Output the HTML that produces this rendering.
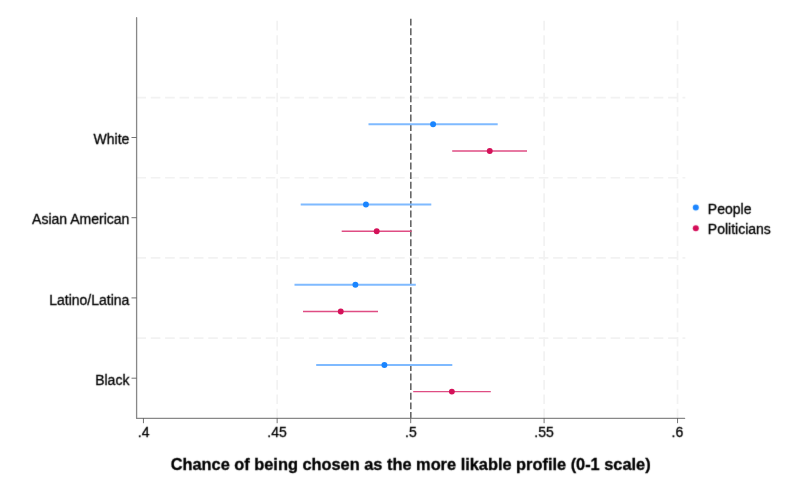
<!DOCTYPE html>
<html>
<head>
<meta charset="utf-8">
<style>
  html, body { margin: 0; padding: 0; background: #ffffff; }
  body { width: 800px; height: 480px; overflow: hidden; font-family: "Liberation Sans", sans-serif; }
  svg { display: block; position: absolute; left: 0; top: 0; will-change: transform; }
  text { font-family: "Liberation Sans", sans-serif; fill: #000000; stroke: #000000; stroke-width: 0.32px; }
  .lab { font-size: 14px; }
  .ttl { font-size: 16.37px; font-weight: bold; }
  .grid { stroke: #f2f2f2; stroke-width: 1.7; stroke-dasharray: 9.6 4.77; fill: none; }
  .axis { stroke: #888888; stroke-width: 1.3; fill: none; stroke-linecap: round; }
  .tick { stroke: #5c5c5c; stroke-width: 0.85; fill: none; }
  .ref { stroke: #666666; stroke-width: 1.6; stroke-dasharray: 6.87 2.722; fill: none; }
  .cib { stroke: #7fbaff; stroke-width: 1.95; }
  .cir { stroke: #df4d83; stroke-width: 1.4; }
  .db { fill: #1a85ff; }
  .dr { fill: #d41159; }
</style>
</head>
<body>
<svg width="800" height="480" viewBox="0 0 800 480">
  <defs><filter id="soft" x="0" y="0" width="800" height="480" filterUnits="userSpaceOnUse"><feConvolveMatrix order="3" kernelMatrix="0.00810 0.07380 0.00810 0.07380 0.67240 0.07380 0.00810 0.07380 0.00810" divisor="1" edgeMode="none" preserveAlpha="false"/></filter></defs>
  <rect x="0" y="0" width="800" height="480" fill="#ffffff"/>

  <!-- horizontal grid -->
  <g class="grid">
    <line x1="136.4" y1="97.55" x2="685.3" y2="97.55"/>
    <line x1="136.4" y1="177.75" x2="685.3" y2="177.75"/>
    <line x1="136.4" y1="257.95" x2="685.3" y2="257.95"/>
    <line x1="136.4" y1="338.15" x2="685.3" y2="338.15"/>
  </g>
  <!-- vertical grid -->
  <g class="grid">
    <line x1="277.2" y1="20.8" x2="277.2" y2="418.2"/>
    <line x1="544.1" y1="20.8" x2="544.1" y2="418.2"/>
    <line x1="677.55" y1="20.8" x2="677.55" y2="418.2"/>
  </g>

  <!-- reference line at .5 -->
  <line class="ref" x1="410.8" y1="18.7" x2="410.8" y2="418.2"/>

  <!-- CI lines -->
  <line class="cib" x1="368.50" y1="124.20" x2="497.70" y2="124.20"/>
  <line class="cir" x1="452.20" y1="151.00" x2="527.00" y2="151.00"/>
  <line class="cib" x1="300.70" y1="204.48" x2="431.30" y2="204.48"/>
  <line class="cir" x1="341.70" y1="231.20" x2="411.70" y2="231.20"/>
  <line class="cib" x1="294.50" y1="284.75" x2="415.80" y2="284.75"/>
  <line class="cir" x1="303.00" y1="311.50" x2="378.00" y2="311.50"/>
  <line class="cib" x1="316.20" y1="365.00" x2="452.30" y2="365.00"/>
  <line class="cir" x1="413.20" y1="391.60" x2="490.80" y2="391.60"/>

  <!-- dots -->
  <circle class="db" cx="433.10" cy="124.20" r="2.95"/>
  <circle class="dr" cx="489.75" cy="151.00" r="2.95"/>
  <circle class="db" cx="365.95" cy="204.48" r="2.95"/>
  <circle class="dr" cx="376.70" cy="231.20" r="2.95"/>
  <circle class="db" cx="355.40" cy="284.75" r="2.95"/>
  <circle class="dr" cx="340.75" cy="311.50" r="2.95"/>
  <circle class="db" cx="384.40" cy="365.00" r="2.95"/>
  <circle class="dr" cx="451.85" cy="391.60" r="2.95"/>

  <!-- axes -->
  <path class="axis" d="M136.6 17.7 V418.45 H684.6" stroke-linejoin="round"/>

  <!-- y ticks -->
  <g class="tick">
    <line x1="131.5" y1="137.5" x2="136.6" y2="137.5"/>
    <line x1="131.5" y1="217.7" x2="136.6" y2="217.7"/>
    <line x1="131.5" y1="297.9" x2="136.6" y2="297.9"/>
    <line x1="131.5" y1="378.2" x2="136.6" y2="378.2"/>
  </g>
  <!-- x ticks -->
  <g class="tick">
    <line x1="143.45" y1="418.2" x2="143.45" y2="423.2"/>
    <line x1="277.15" y1="418.2" x2="277.15" y2="423.2"/>
    <line x1="410.7" y1="418.2" x2="410.7" y2="423.2"/>
    <line x1="544.1" y1="418.2" x2="544.1" y2="423.2"/>
    <line x1="677.55" y1="418.2" x2="677.55" y2="423.2"/>
  </g>

  <g filter="url(#soft)">
  <!-- y labels -->
  <g class="lab" text-anchor="end">
    <text x="129.4" y="144.05">White</text>
    <text x="129.4" y="224.3">Asian American</text>
    <text x="129.4" y="304.6">Latino/Latina</text>
    <text x="129.4" y="384.9">Black</text>
  </g>
  <!-- x labels -->
  <g class="lab" text-anchor="middle">
    <text x="143.6" y="436.8">.4</text>
    <text x="277.0" y="437.0">.45</text>
    <text x="410.9" y="437.0">.5</text>
    <text x="544.0" y="437.0">.55</text>
    <text x="677.4" y="436.8">.6</text>
  </g>

  <!-- title -->
  <text class="ttl" text-anchor="middle" x="410.65" y="469.9">Chance of being chosen as the more likable profile (0-1 scale)</text>

  <!-- legend -->
  <circle class="db" cx="695.8" cy="207.5" r="3.0"/>
  <circle class="dr" cx="695.8" cy="228.3" r="3.0"/>
  <text class="lab" x="707.85" y="214.0">People</text>
  <text class="lab" x="707.85" y="234.1">Politicians</text>
  </g>
</svg>
</body>
</html>
